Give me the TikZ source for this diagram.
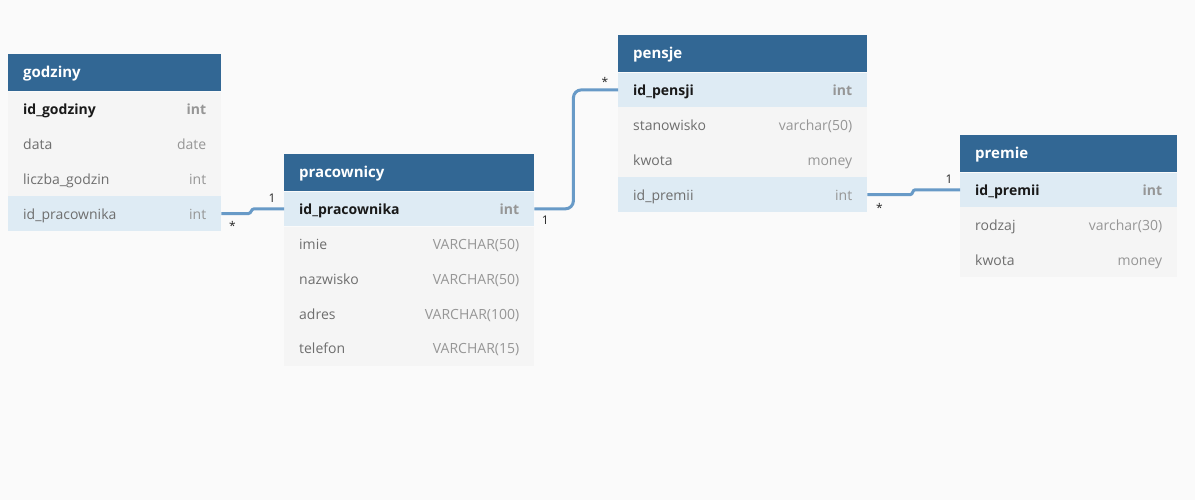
\documentclass[tikz,border=0pt]{standalone}
\usepackage{fontspec}
\setmainfont{Open Sans}
\usepackage{tikz}
\usetikzlibrary{calc, positioning}
\definecolor{headblue}{RGB}{50, 103, 148}
\definecolor{rowgray}{RGB}{245, 245, 245}
\definecolor{rowblue}{RGB}{222, 235, 244}
\definecolor{canvas}{RGB}{250, 250, 250}
\definecolor{namegray}{RGB}{110, 110, 110}
\definecolor{typegray}{RGB}{150, 150, 150}
\definecolor{keyblack}{RGB}{25, 25, 25}
\definecolor{linkblue}{RGB}{104, 154, 199}
\tikzset{
    headnode/.style = {rectangle, fill=headblue, anchor=north west, inner xsep=15pt, inner ysep=0pt,
      minimum height=37pt, text=white, align=left, text height=12pt, text depth=2.5pt,
      font=\fontsize{15pt}{17pt}\selectfont\bfseries},
    rownode/.style = {rectangle, fill=rowgray, inner xsep=15pt, inner ysep=0pt, minimum height=34.5pt,
      text=namegray, align=left, text height=12.5pt, text depth=1.5pt, font=\fontsize{14pt}{16pt}\selectfont},
    keynode/.style = {rownode, text=keyblack, font=\fontsize{14pt}{16pt}\selectfont\bfseries},
    linknode/.style = {fill=rowblue},
    cardnode/.style = {inner sep=0pt, text=black!85, font=\fontsize{12pt}{14pt}\selectfont},
    link/.style = {draw=linkblue, line width=3pt}
}

\begin{document}
\begin{tikzpicture}[x=1pt, y=-1pt]
\fill[canvas] (0,0) rectangle (1195,500);
\useasboundingbox (0,0) rectangle (1195,500);

% godziny
\node[headnode, name=godz, text width=183pt] at (8,54) {godziny};
\node[keynode, name=godz_id, text width=183pt, below=0pt of godz]
	{id\_godziny\hfill{\color{typegray}int}};
\node[rownode, name=godz_data, text width=183pt, below=0pt of godz_id]
	{data\hfill{\color{typegray}date}};
\node[rownode, name=godz_liczba, text width=183pt, below=0pt of godz_data]
	{liczba\_godzin\hfill{\color{typegray}int}};
\node[rownode, linknode, name=godz_idp, text width=183pt, below=0pt of godz_liczba]
	{id\_pracownika\hfill{\color{typegray}int}};

% pracownicy
\node[headnode, name=prac, text width=220pt] at (284,154) {pracownicy};
\node[keynode, linknode, name=prac_id, text width=220pt, below=0pt of prac]
	{id\_pracownika\hfill{\color{typegray}int}};
\node[rownode, name=prac_imie, text width=220pt, below=0pt of prac_id]
	{imie\hfill{\color{typegray}VARCHAR(50)}};
\node[rownode, name=prac_nazw, text width=220pt, below=0pt of prac_imie]
	{nazwisko\hfill{\color{typegray}VARCHAR(50)}};
\node[rownode, name=prac_adres, text width=220pt, below=0pt of prac_nazw]
	{adres\hfill{\color{typegray}VARCHAR(100)}};
\node[rownode, name=prac_tel, text width=220pt, below=0pt of prac_adres]
	{telefon\hfill{\color{typegray}VARCHAR(15)}};

% pensje
\node[headnode, name=pens, text width=219pt] at (618,35) {pensje};
\node[keynode, linknode, name=pens_id, text width=219pt, below=0pt of pens]
	{id\_pensji\hfill{\color{typegray}int}};
\node[rownode, name=pens_stan, text width=219pt, below=0pt of pens_id]
	{stanowisko\hfill{\color{typegray}varchar(50)}};
\node[rownode, name=pens_kwota, text width=219pt, below=0pt of pens_stan]
	{kwota\hfill{\color{typegray}money}};
\node[rownode, linknode, name=pens_idp, text width=219pt, below=0pt of pens_kwota]
	{id\_premii\hfill{\color{typegray}int}};

% premie
\node[headnode, name=prem, text width=187pt] at (960,135) {premie};
\node[keynode, linknode, name=prem_id, text width=187pt, below=0pt of prem]
	{id\_premii\hfill{\color{typegray}int}};
\node[rownode, name=prem_rodz, text width=187pt, below=0pt of prem_id]
	{rodzaj\hfill{\color{typegray}varchar(30)}};
\node[rownode, name=prem_kwota, text width=187pt, below=0pt of prem_rodz]
	{kwota\hfill{\color{typegray}money}};

% relations
\draw[link] (godz_idp.east) -- ++(27,0) to[out=0, in=180] ($(prac_id.west)+(-30,0)$) -- (prac_id.west);
\draw[link, rounded corners=8pt] (prac_id.east) -- ++(39,0) |- (pens_id.west);
\draw[link] (pens_idp.east) -- ++(43,0) to[out=0, in=180] ($(prem_id.west)+(-45,0)$) -- (prem_id.west);

\node[cardnode, name=c1] at ($(godz_idp.east)+(11,12)$) {*};
\node[cardnode, name=c2] at ($(prac_id.west)+(-12,-11)$) {1};
\node[cardnode, name=c3] at ($(prac_id.east)+(11,11)$) {1};
\node[cardnode, name=c4] at ($(pens_id.west)+(-13,-8)$) {*};
\node[cardnode, name=c5] at ($(pens_idp.east)+(12,13)$) {*};
\node[cardnode, name=c6] at ($(prem_id.west)+(-11,-11)$) {1};
\end{tikzpicture}
\end{document}
